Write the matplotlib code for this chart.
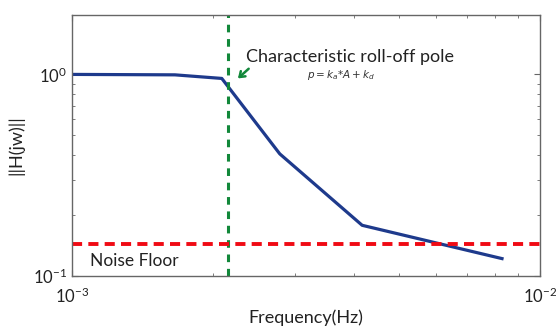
import matplotlib
matplotlib.use('Agg')
import matplotlib.pyplot as plt
from matplotlib.ticker import LogLocator, NullFormatter

plt.rcParams['font.family'] = ['Lato', 'DejaVu Sans']

# magnitude response
freq = [1.0e-3, 1.66e-3, 2.09e-3, 2.78e-3, 4.17e-3, 8.3e-3]
mag = [1.0, 0.995, 0.955, 0.403, 0.178, 0.1216]
pole_freq = 2.15e-3
noise_floor = 0.143

fig = plt.figure(figsize=(5.56, 3.29), dpi=100)
ax = fig.add_axes([0.1295, 0.162, 0.8415, 0.792])

ax.plot(freq, mag, color='#1e3a8c', lw=2.3, solid_joinstyle='round')
ax.axvline(pole_freq, color='#12883a', lw=2.2, ls=(0, (2.5, 2.2)))
ax.axhline(noise_floor, color='#f00a14', lw=2.8, ls=(0, (2.6, 1.6)))

ax.set_xscale('log')
ax.set_yscale('log')
ax.set_xlim(1e-3, 1e-2)
ax.set_ylim(0.1, 1.97)

ax.xaxis.set_major_locator(LogLocator(base=10))
ax.yaxis.set_major_locator(LogLocator(base=10))
ax.xaxis.set_minor_locator(LogLocator(base=10, subs=range(2, 10)))
ax.yaxis.set_minor_locator(LogLocator(base=10, subs=range(2, 10)))
ax.xaxis.set_minor_formatter(NullFormatter())
ax.yaxis.set_minor_formatter(NullFormatter())
ax.tick_params(which='both', direction='in', top=True, right=True, colors='#666666',
               labelcolor='#222222', labelsize=12)
ax.tick_params(which='major', length=4)
ax.tick_params(which='minor', length=2.5)
ax.tick_params(axis='x', pad=8)
for s in ax.spines.values():
    s.set_color('#666666')
    s.set_linewidth(1.0)

ax.set_xlabel('Frequency(Hz)', fontsize=13, color='#222222', labelpad=2)
ax.set_ylabel('||H(jw)||', fontsize=13, color='#222222', labelpad=6)

ax.text(2.35e-3, 1.216, 'Characteristic roll-off pole', fontsize=13, color='#222222',
        ha='left', va='center')
ax.text(3.76e-3, 0.99, r'$p = k_a{*}A + k_d$', fontsize=7.5, color='#333333',
        ha='center', va='center')
ax.annotate('', xy=(2.24e-3, 0.935), xytext=(2.41e-3, 1.09),
            arrowprops=dict(arrowstyle='->,head_length=0.35,head_width=0.25',
                            color='#12883a', lw=1.8))
ax.text(1.09e-3, 0.118, 'Noise Floor', fontsize=12.5, color='#222222', ha='left', va='center')

fig.savefig('out.png', dpi=100)
